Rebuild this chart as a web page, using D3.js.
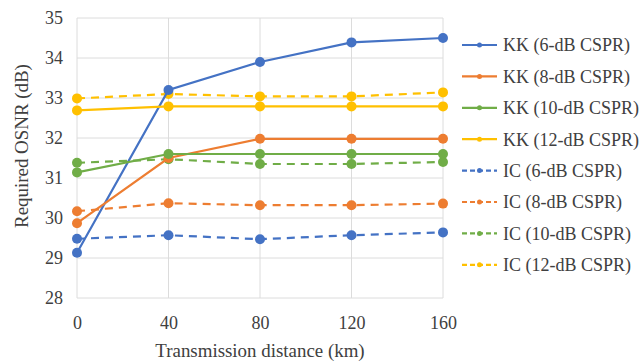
<!DOCTYPE html>
<html>
<head>
<meta charset="utf-8">
<script src="https://cdn.jsdelivr.net/npm/d3@7"></script>
<style>
  body { margin: 0; background: #fff; }
  svg { display: block; font-family: "Liberation Serif", "DejaVu Serif", serif; }
</style>
</head>
<body>
<svg id="chart" width="640" height="362"></svg>
<script>
// transmission distance (km)
const distances = [0, 40, 80, 120, 160];
const yTicks = [28, 29, 30, 31, 32, 33, 34, 35];

const kk6 = [29.13, 33.2, 33.9, 34.39, 34.5];
const kk8 = [29.87, 31.5, 31.98, 31.98, 31.98];
const kk10 = [31.14, 31.6, 31.6, 31.6, 31.6];
const kk12 = [32.69, 32.79, 32.79, 32.79, 32.79];
const ic6 = [29.48, 29.57, 29.47, 29.57, 29.64];
const ic8 = [30.17, 30.37, 30.32, 30.32, 30.36];
const ic10 = [31.38, 31.47, 31.35, 31.35, 31.4];
const ic12 = [32.99, 33.1, 33.04, 33.04, 33.14];

const seriesNames = [
  "KK (6-dB CSPR)", "KK (8-dB CSPR)", "KK (10-dB CSPR)", "KK (12-dB CSPR)",
  "IC (6-dB CSPR)", "IC (8-dB CSPR)", "IC (10-dB CSPR)", "IC (12-dB CSPR)"
];
const seriesValues = [kk6, kk8, kk10, kk12, ic6, ic8, ic10, ic12];
const colors = ["#4472C4", "#ED7D31", "#70AD47", "#FFC000"];

const series = seriesNames.map((name, i) => ({
  name: name,
  values: seriesValues[i],
  color: colors[i % 4],
  dashed: i >= 4
}));

const svg = d3.select("#chart");
const margin = { left: 77, right: 197, top: 18, bottom: 64 };
const width = 640 - margin.left - margin.right;
const height = 362 - margin.top - margin.bottom;
const textColor = "#404040";

const x = d3.scaleLinear().domain([0, 160]).range([margin.left, margin.left + width]);
const y = d3.scaleLinear().domain([28, 35]).range([margin.top + height, margin.top]);

// grid
const grid = svg.append("g");
grid.selectAll("line.h")
  .data(yTicks)
  .enter().append("line")
  .attr("class", "h")
  .attr("x1", x(0)).attr("x2", x(160))
  .attr("y1", d => y(d)).attr("y2", d => y(d))
  .style("stroke", "#dcdcdc").style("stroke-width", 1);
grid.selectAll("line.v")
  .data(distances)
  .enter().append("line")
  .attr("class", "v")
  .attr("x1", d => x(d)).attr("x2", d => x(d))
  .attr("y1", y(28)).attr("y2", y(35))
  .style("stroke", "#dcdcdc").style("stroke-width", 1);

// axes
const yAxis = svg.append("g")
  .attr("transform", "translate(" + (margin.left - 10) + ",0)")
  .call(d3.axisLeft(y).tickValues(yTicks).tickFormat(d3.format("d")).tickSize(0).tickPadding(4));
const xAxis = svg.append("g")
  .attr("transform", "translate(0," + (margin.top + height + 18) + ")")
  .call(d3.axisBottom(x).tickValues(distances).tickFormat(d3.format("d")).tickSize(0).tickPadding(0));
[xAxis, yAxis].forEach(a => {
  a.select(".domain").remove();
  a.selectAll("text")
    .style("font-family", "Liberation Serif, serif")
    .style("font-size", "18px")
    .style("fill", textColor);
});

svg.append("text")
  .attr("class", "title")
  .attr("x", x(80))
  .attr("y", 357)
  .attr("text-anchor", "middle")
  .style("font-size", "18px")
  .style("fill", textColor)
  .text("Transmission distance (km)");

svg.append("text")
  .attr("class", "title")
  .attr("transform", "translate(28,146) rotate(-90)")
  .attr("text-anchor", "middle")
  .style("font-size", "18px")
  .style("fill", textColor)
  .text("Required OSNR (dB)");

// lines
const line = d3.line()
  .x((d, i) => x(distances[i]))
  .y(d => y(d));

const drawOrder = [4, 5, 6, 7, 0, 1, 2, 3];
drawOrder.forEach(k => {
  const s = series[k];
  const g = svg.append("g");
  g.append("path")
    .datum(s.values)
    .attr("d", line)
    .style("fill", "none")
    .style("stroke", s.color)
    .style("stroke-width", 2.2)
    .style("stroke-dasharray", s.dashed ? "8,6" : null);
  g.selectAll("circle")
    .data(s.values)
    .enter().append("circle")
    .attr("cx", (d, i) => x(distances[i]))
    .attr("cy", d => y(d))
    .attr("r", 5)
    .style("fill", s.color);
});

// legend
const legend = svg.append("g").attr("transform", "translate(462,45)");
const item = legend.selectAll("g")
  .data(series)
  .enter().append("g")
  .attr("transform", (d, i) => "translate(0," + (i * 31.4) + ")");
item.append("line")
  .attr("x1", 0).attr("x2", 35)
  .style("stroke", d => d.color)
  .style("stroke-width", 2.2)
  .style("stroke-dasharray", d => d.dashed ? "5,3" : null);
item.append("circle")
  .attr("cx", 17.5)
  .attr("r", 2.5)
  .style("fill", d => d.color);
item.append("text")
  .attr("x", 41)
  .attr("dy", "0.35em")
  .style("font-size", "18px")
  .style("fill", textColor)
  .text(d => d.name);

// axis titles in the source figure are a little wider than the plain font
svg.selectAll("text.title").each(function () {
  const w = this.getComputedTextLength();
  d3.select(this).attr("textLength", w * 1.05).attr("lengthAdjust", "spacingAndGlyphs");
});
</script>
</body>
</html>
